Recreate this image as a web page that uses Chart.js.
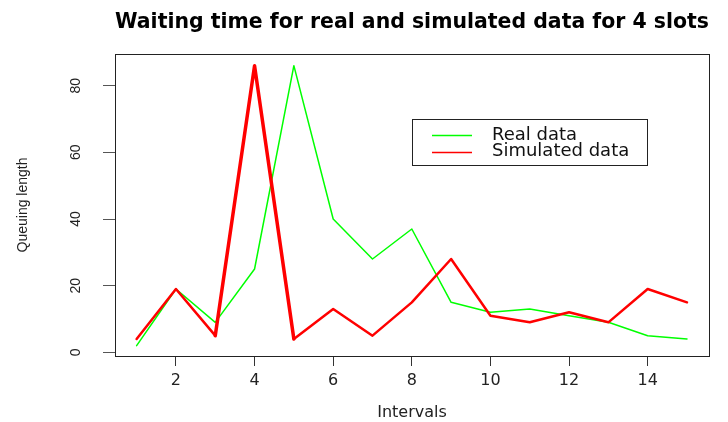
<!DOCTYPE html>
<html>
<head>
<meta charset="utf-8">
<script src="https://cdn.jsdelivr.net/npm/chart.js"></script>
<style>
  html, body { margin: 0; padding: 0; background: #fff; }
  #wrap { width: 728px; height: 422px; }
</style>
</head>
<body>
<div id="wrap"><canvas id="myChart" width="728" height="422"></canvas></div>
<script>
const intervals = [1, 2, 3, 4, 5, 6, 7, 8, 9, 10, 11, 12, 13, 14, 15];
const realData = [2, 19, 9, 25, 86, 40, 28, 37, 15, 12, 13, 11, 9, 5, 4];
const simulatedData = [4, 19, 5, 86, 4, 13, 5, 15, 28, 11, 9, 12, 9, 19, 15];
const seriesNames = ['Real data', 'Simulated data'];
const xTicks = [2, 4, 6, 8, 10, 12, 14];
const yTicks = [0, 20, 40, 60, 80];

function toPoints(values) {
    return intervals.map((x, i) => ({x: x, y: values[i]}));
}

// white background + plot box
const framePlugin = {
    id: 'frame',
    beforeDraw(chart) {
        const ctx = chart.ctx;
        ctx.save();
        ctx.fillStyle = '#fff';
        ctx.fillRect(0, 0, chart.width, chart.height);
        ctx.restore();
    },
    afterDraw(chart) {
        const a = chart.chartArea;
        const ctx = chart.ctx;
        ctx.save();
        ctx.strokeStyle = '#222';
        ctx.lineWidth = 1;
        ctx.strokeRect(Math.round(a.left) + 0.5, Math.round(a.top) + 0.5,
            Math.round(a.right - a.left), Math.round(a.bottom - a.top));
        ctx.restore();
    }
};

// R style legend box inside the plot
const boxLegend = {
    id: 'boxLegend',
    afterDraw(chart) {
        const ctx = chart.ctx;
        const sets = chart.data.datasets;
        const x0 = 412, y0 = 119, w = 235, h = 46;
        ctx.save();
        ctx.fillStyle = '#fff';
        ctx.fillRect(x0, y0, w, h);
        ctx.strokeStyle = '#222';
        ctx.lineWidth = 1;
        ctx.strokeRect(x0 + 0.5, y0 + 0.5, w, h);
        ctx.font = '18px "DejaVu Sans"';
        ctx.textBaseline = 'middle';
        ctx.fillStyle = '#111';
        sets.forEach((ds, i) => {
            const y = 135 + i * 16.5;
            ctx.strokeStyle = ds.borderColor;
            ctx.lineWidth = 1.5;
            ctx.beginPath();
            ctx.moveTo(432, Math.round(y) + 0.5);
            ctx.lineTo(472, Math.round(y) + 0.5);
            ctx.stroke();
            ctx.fillText(ds.label, 492, y);
        });
        ctx.restore();
    }
};

const ctx = document.getElementById('myChart').getContext('2d');

new Chart(ctx, {
    type: 'line',
    data: {
        datasets: [{
            label: seriesNames[0],
            data: toPoints(realData),
            borderColor: '#00ff00',
            borderWidth: 1.5,
            borderJoinStyle: 'round',
            borderCapStyle: 'round',
            pointRadius: 0,
            tension: 0,
            order: 1
        }, {
            label: seriesNames[1],
            data: toPoints(simulatedData),
            borderColor: '#ff0000',
            borderWidth: 2.5,
            borderJoinStyle: 'round',
            borderCapStyle: 'round',
            pointRadius: 0,
            tension: 0,
            order: 0,
            segment: {
                borderWidth: c => (c.p0DataIndex === 2 || c.p0DataIndex === 3) ? 3.5 : 2.5
            }
        }]
    },
    options: {
        responsive: false,
        animation: false,
        events: [],
        layout: {padding: {left: 0, right: 19, top: 0, bottom: 0}},
        plugins: {
            legend: {display: false},
            tooltip: {enabled: false},
            title: {
                display: true,
                fullSize: false,
                text: 'Waiting time for real and simulated data for 4 slots',
                color: '#000',
                font: {family: '"DejaVu Sans"', size: 21, weight: 'bold'},
                padding: {top: 10.4, bottom: 18.4}
            }
        },
        scales: {
            x: {
                type: 'linear',
                min: 0.45,
                max: 15.56,
                afterFit: s => { s.height = 66; },
                afterBuildTicks: s => { s.ticks = xTicks.map(v => ({value: v})); },
                ticks: {
                    includeBounds: false,
                    color: '#222',
                    padding: 5,
                    font: {family: '"DejaVu Sans"', size: 16}
                },
                grid: {drawOnChartArea: false, drawTicks: true, tickLength: 10, color: '#333'},
                border: {display: true, color: '#222'},
                title: {
                    display: true,
                    text: 'Intervals',
                    color: '#222',
                    font: {family: '"DejaVu Sans"', size: 16},
                    padding: {top: 0, bottom: 0}
                }
            },
            y: {
                type: 'linear',
                min: -1.1,
                max: 89.5,
                afterFit: s => { s.width = 115; },
                afterBuildTicks: s => { s.ticks = yTicks.map(v => ({value: v})); },
                ticks: {
                    includeBounds: false,
                    minRotation: 90,
                    maxRotation: 90,
                    crossAlign: 'center',
                    color: '#222',
                    padding: 19,
                    font: {family: '"Liberation Sans"', size: 14}
                },
                grid: {drawOnChartArea: false, drawTicks: true, tickLength: 12, color: '#555'},
                border: {display: true, color: '#222'},
                title: {
                    display: true,
                    text: 'Queuing length',
                    color: '#222',
                    font: {family: '"Liberation Sans"', size: 14},
                    padding: {top: 14.6, bottom: 0}
                }
            }
        }
    },
    plugins: [framePlugin, boxLegend]
});
</script>
</body>
</html>
